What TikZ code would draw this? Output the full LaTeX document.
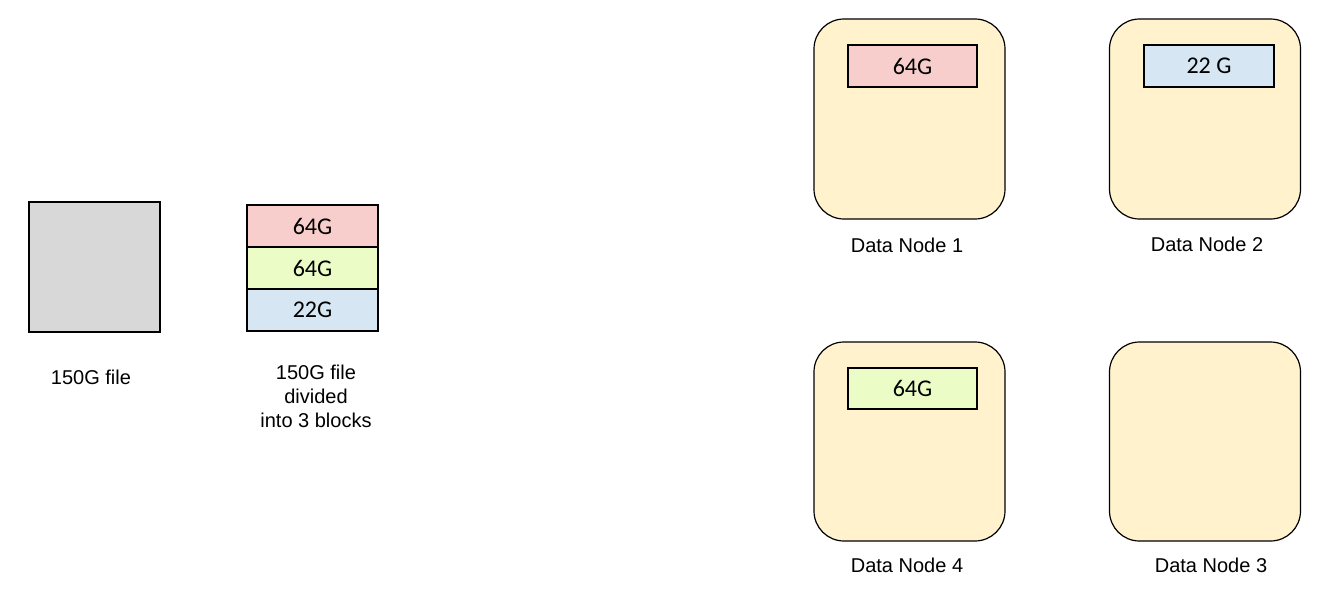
\documentclass[tikz,border=0pt]{standalone}
\usepackage{fontspec}
\setmainfont{Liberation Sans}
\newfontfamily\blockfont{Carlito}
\usetikzlibrary{positioning}
\definecolor{filegray}{HTML}{D8D8D8}
\definecolor{blockred}{HTML}{F8CECC}
\definecolor{blockgreen}{HTML}{EBFCC6}
\definecolor{blockblue}{HTML}{D6E6F2}
\definecolor{nodeyellow}{HTML}{FFF2CC}
\tikzset{
  blockbox/.style={draw, line width=1.2pt, inner sep=0pt, outer sep=0pt,
    minimum width=131pt, minimum height=42pt,
    font=\blockfont\fontsize{24}{27}\selectfont},
  datanode/.style={draw, line width=1.2pt, fill=nodeyellow, rounded corners=30pt,
    minimum width=191pt, minimum height=200pt, inner sep=0pt},
  caption/.style={font=\fontsize{20}{24}\selectfont, align=center, inner sep=0pt}
}
\begin{document}
\begin{tikzpicture}[x=1pt, y=-1pt]
  \useasboundingbox (0,0) rectangle (1318,598);
  % the whole file
  \node[draw, line width=1.2pt, fill=filegray, minimum width=131pt, minimum height=130pt] (file) at (94.5,267) {};
  \node[caption] (filelabel) at (91,377) {150G file};
  % the file cut into blocks
  \node[blockbox, fill=blockred] (blockA) at (312.5,226) {64G};
  \node[blockbox, fill=blockgreen, below=0pt of blockA] (blockB) {64G};
  \node[blockbox, fill=blockblue, below=0pt of blockB] (blockC) {22G};
  \node[caption] (blocklabel) at (316,396) {150G file\\divided\\into 3 blocks};
  % data nodes
  \node[datanode] (dn1) at (909.5,119) {};
  \node[datanode] (dn2) at (1205,119) {};
  \node[datanode, minimum height=199pt] (dn4) at (909.5,441.5) {};
  \node[datanode, minimum height=199pt] (dn3) at (1205,441.5) {};
  \node[caption] (dn1label) at (907,245) {Data Node 1};
  \node[caption] (dn2label) at (1207,244) {Data Node 2};
  \node[caption] (dn4label) at (907,565) {Data Node 4};
  \node[caption] (dn3label) at (1211,565) {Data Node 3};
  % blocks stored on the data nodes
  \node[blockbox, fill=blockred, minimum width=129pt] (dn1block) at (912.5,66) {64G};
  \node[blockbox, fill=blockblue, minimum width=130pt] (dn2block) at (1209,66) {22 G};
  \node[blockbox, fill=blockgreen, minimum width=129pt, minimum height=41pt] (dn4block) at (912.5,388.5) {64G};
\end{tikzpicture}
\end{document}
